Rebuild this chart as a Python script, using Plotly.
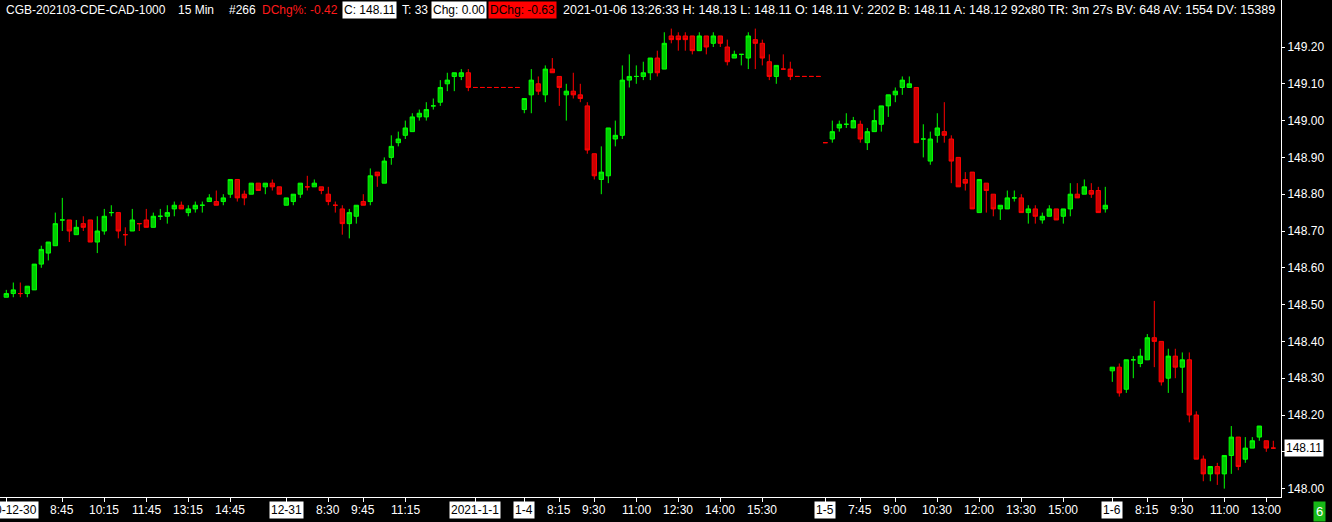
import plotly.graph_objects as go

# ---------------- data (15-min bars, left to right) ----------------
bar_index = list(range(182))

opens = [
    # 2020-12-30
    148.52, 148.53, 148.53, 148.53, 148.54, 148.61, 148.64, 148.66, 148.73, 148.73,
    148.69, 148.72, 148.73, 148.67, 148.70, 148.75, 148.75, 148.69, 148.70, 148.72,
    148.73, 148.71, 148.74, 148.74, 148.76, 148.77, 148.75, 148.76, 148.77, 148.78,
    148.78, 148.78, 148.80, 148.84, 148.80, 148.80, 148.83, 148.82, 148.83, 148.82,
    # 12-31
    148.77, 148.78, 148.80, 148.82, 148.82, 148.82, 148.80, 148.77, 148.76, 148.72,
    148.74, 148.78, 148.78, 148.86, 148.83, 148.90, 148.94, 148.96, 148.97, 149.01,
    149.01, 149.04, 149.05, 149.10, 149.12, 149.12, 149.13,
    # 2021-1-1 (no trades)
    149.09, 149.09, 149.09, 149.09, 149.09, 149.09, 149.09,
    # 1-4
    149.03, 149.07, 149.10, 149.07, 149.14, 149.12, 149.07, 149.08, 149.07, 149.04,
    148.91, 148.84, 148.85, 148.95, 148.96, 149.11, 149.12, 149.12, 149.13, 149.17,
    149.14, 149.23, 149.23, 149.23, 149.23, 149.19, 149.23, 149.21, 149.23, 149.20,
    149.17, 149.18, 149.17, 149.22, 149.21, 149.16, 149.12, 149.14, 149.14, 149.12,
    149.12, 149.12, 149.12,
    # 1-5
    148.94, 148.95, 148.98, 148.99, 148.98, 148.99, 148.94, 148.97, 148.99, 149.04,
    149.07, 149.09, 149.09, 149.09, 148.95, 148.89, 148.96, 148.97, 148.95, 148.90,
    148.84, 148.86, 148.75, 148.83, 148.80, 148.76, 148.76, 148.79, 148.79, 148.75,
    148.76, 148.73, 148.74, 148.76, 148.74, 148.76, 148.80, 148.80, 148.81, 148.81,
    148.76,
    # 1-6
    148.32, 148.33, 148.27, 148.35, 148.34, 148.35, 148.41, 148.40, 148.30, 148.36,
    148.33, 148.35, 148.20, 148.08, 148.04, 148.06, 148.04, 148.09, 148.14, 148.08,
    148.11, 148.14, 148.13, 148.11,
]

highs = [
    148.54, 148.56, 148.56, 148.55, 148.61, 148.66, 148.67, 148.75, 148.79, 148.73,
    148.73, 148.74, 148.73, 148.74, 148.76, 148.77, 148.75, 148.71, 148.76, 148.72,
    148.76, 148.75, 148.76, 148.77, 148.78, 148.78, 148.77, 148.78, 148.78, 148.80,
    148.81, 148.80, 148.84, 148.84, 148.81, 148.83, 148.83, 148.83, 148.84, 148.82,
    148.79, 148.80, 148.83, 148.85, 148.84, 148.82, 148.82, 148.78, 148.77, 148.76,
    148.77, 148.80, 148.87, 148.86, 148.90, 148.96, 148.97, 149.00, 149.02, 149.03,
    149.05, 149.06, 149.11, 149.13, 149.13, 149.14, 149.14,
    149.09, 149.09, 149.09, 149.09, 149.09, 149.09, 149.09,
    149.06, 149.14, 149.12, 149.15, 149.17, 149.12, 149.10, 149.13, 149.10, 149.05,
    148.91, 148.93, 148.98, 149.00, 149.15, 149.18, 149.15, 149.16, 149.17, 149.19,
    149.24, 149.25, 149.24, 149.24, 149.23, 149.24, 149.23, 149.24, 149.23, 149.22,
    149.19, 149.18, 149.24, 149.25, 149.22, 149.18, 149.15, 149.18, 149.16, 149.12,
    149.12, 149.12, 149.12,
    148.94, 149.00, 149.00, 149.02, 149.01, 149.00, 148.98, 149.03, 149.04, 149.07,
    149.09, 149.12, 149.12, 149.09, 148.99, 148.97, 149.02, 149.05, 148.96, 148.90,
    148.86, 148.86, 148.84, 148.83, 148.80, 148.77, 148.81, 148.81, 148.80, 148.77,
    148.77, 148.75, 148.77, 148.76, 148.76, 148.83, 148.83, 148.84, 148.83, 148.82,
    148.82,
    148.33, 148.34, 148.35, 148.36, 148.38, 148.42, 148.51, 148.40, 148.38, 148.38,
    148.37, 148.37, 148.21, 148.09, 148.06, 148.07, 148.09, 148.17, 148.14, 148.14,
    148.14, 148.17, 148.13, 148.13,
]

lows = [
    148.52, 148.52, 148.52, 148.52, 148.54, 148.60, 148.62, 148.66, 148.70, 148.67,
    148.69, 148.70, 148.67, 148.64, 148.69, 148.74, 148.68, 148.66, 148.70, 148.70,
    148.71, 148.71, 148.73, 148.72, 148.74, 148.76, 148.74, 148.75, 148.75, 148.78,
    148.77, 148.77, 148.79, 148.78, 148.77, 148.80, 148.81, 148.80, 148.81, 148.80,
    148.77, 148.77, 148.79, 148.81, 148.82, 148.80, 148.77, 148.75, 148.69, 148.68,
    148.72, 148.77, 148.77, 148.82, 148.83, 148.88, 148.93, 148.95, 148.97, 149.00,
    149.00, 149.03, 149.04, 149.08, 149.08, 149.11, 149.08,
    149.09, 149.09, 149.09, 149.09, 149.09, 149.09, 149.09,
    149.02, 149.02, 149.07, 149.05, 149.13, 149.04, 149.00, 149.06, 149.05, 148.91,
    148.84, 148.80, 148.83, 148.93, 148.95, 149.09, 149.10, 149.11, 149.11, 149.12,
    149.14, 149.21, 149.19, 149.19, 149.18, 149.19, 149.18, 149.20, 149.20, 149.15,
    149.17, 149.15, 149.14, 149.14, 149.15, 149.11, 149.10, 149.14, 149.11, 149.12,
    149.12, 149.12, 149.12,
    148.94, 148.94, 148.97, 148.98, 148.98, 148.94, 148.92, 148.97, 148.97, 149.01,
    149.05, 149.07, 149.09, 148.94, 148.90, 148.88, 148.94, 148.94, 148.83, 148.82,
    148.81, 148.76, 148.75, 148.75, 148.74, 148.73, 148.76, 148.78, 148.75, 148.72,
    148.72, 148.72, 148.74, 148.73, 148.72, 148.74, 148.79, 148.80, 148.79, 148.75,
    148.75,
    148.29, 148.25, 148.26, 148.30, 148.33, 148.35, 148.33, 148.28, 148.26, 148.30,
    148.26, 148.18, 148.08, 148.02, 148.02, 148.01, 148.00, 148.04, 148.05, 148.07,
    148.11, 148.13, 148.10, 148.11,
]

closes = [
    148.53, 148.54, 148.53, 148.55, 148.61, 148.65, 148.67, 148.72, 148.73, 148.70,
    148.71, 148.71, 148.67, 148.70, 148.74, 148.75, 148.70, 148.69, 148.73, 148.72,
    148.71, 148.74, 148.74, 148.75, 148.77, 148.76, 148.76, 148.77, 148.77, 148.79,
    148.77, 148.79, 148.84, 148.79, 148.79, 148.83, 148.81, 148.83, 148.82, 148.80,
    148.79, 148.80, 148.83, 148.82, 148.83, 148.81, 148.78, 148.77, 148.72, 148.75,
    148.77, 148.77, 148.85, 148.85, 148.89, 148.93, 148.95, 148.98, 149.01, 149.02,
    149.03, 149.04, 149.09, 149.11, 149.13, 149.13, 149.09,
    149.09, 149.09, 149.09, 149.09, 149.09, 149.09, 149.09,
    149.06, 149.11, 149.08, 149.14, 149.13, 149.09, 149.08, 149.07, 149.06, 148.92,
    148.85, 148.86, 148.98, 148.96, 149.11, 149.12, 149.12, 149.13, 149.17, 149.13,
    149.21, 149.22, 149.22, 149.22, 149.19, 149.23, 149.20, 149.23, 149.21, 149.16,
    149.18, 149.18, 149.23, 149.21, 149.17, 149.12, 149.15, 149.14, 149.12, 149.12,
    149.12, 149.12, 149.12,
    148.94, 148.97, 148.99, 148.99, 149.00, 148.95, 148.97, 149.00, 149.04, 149.07,
    149.08, 149.11, 149.10, 148.94, 148.95, 148.95, 148.98, 148.96, 148.89, 148.82,
    148.83, 148.76, 148.84, 148.81, 148.76, 148.77, 148.79, 148.79, 148.75, 148.76,
    148.74, 148.74, 148.76, 148.73, 148.76, 148.80, 148.79, 148.82, 148.80, 148.75,
    148.77,
    148.33, 148.26, 148.35, 148.35, 148.36, 148.41, 148.40, 148.29, 148.36, 148.33,
    148.35, 148.20, 148.08, 148.04, 148.06, 148.04, 148.09, 148.14, 148.06, 148.11,
    148.13, 148.17, 148.11, 148.11,
]

# G = green (up) candle, R = red (down) candle, as coloured in the chart
direction = (
    "GGRGGGGGGR" "GRRGGGRRGR" "RGGGGRGGGG" "RGGRRGRGRR"      # 12-30
    "GGGRGRRRRG" "GRGRGGGGGG" "GGGGGGR"                     # 12-31
    "RRRRRRR"                                               # 1-1
    "GGRGRRGRRR" "RGGGGGGGGR" "GRRRRGRGRR" "GGGRRRGRRR" "RRR"  # 1-4
    "RGGGGRGGGG" "GGGRGGGRRR" "RRGRRGGGRG" "RGGRGGRGRR" "G"    # 1-5
    "GRGGGGRRGR" "GRRRGRGGRG" "GGRR"                        # 1-6
)

time_tick_pos = [8, 14, 20, 26, 32, 46, 51, 57, 79, 84, 90, 96, 102, 108,
                 122, 127, 133, 139, 145, 151, 163, 168, 174, 180]
time_tick_text = ["8:45", "10:15", "11:45", "13:15", "14:45", "8:30", "9:45", "11:15",
                  "8:15", "9:30", "11:00", "12:30", "14:00", "15:30",
                  "7:45", "9:00", "10:30", "12:00", "13:30", "15:00",
                  "8:15", "9:30", "11:00", "13:00"]
date_tick_pos = [0, 40, 67, 74, 117, 158]
date_tick_text = ["2020-12-30", "12-31", "2021-1-1", "1-4", "1-5", "1-6"]

price_tick_vals = [148.00, 148.10, 148.20, 148.30, 148.40, 148.50, 148.60,
                   148.70, 148.80, 148.90, 149.00, 149.10, 149.20]
last_price = 148.11

header_items = [
    ("CGB-202103-CDE-CAD-1000", 4, "white", None),
    ("15 Min", 176, "white", None),
    ("#266", 227, "white", None),
    ("DChg%: -0.42", 260, "#ff1a1a", None),
    ("C: 148.11", 341.5, "black", "white"),
    ("T: 33", 399.5, "white", None),
    ("Chg: 0.00", 431, "black", "white"),
    ("DChg: -0.63", 488, "black", "#ff0000"),
    ("2021-01-06 13:26:33 H: 148.13 L: 148.11 O: 148.11 V: 2202 B: 148.11 "
     "A: 148.12 92x80 TR: 3m 27s BV: 648 AV: 1554 DV: 15389", 561, "white", None),
]

# ---------------- styling ----------------
FONT = "Liberation Sans, Arial, sans-serif"
UP_LINE, UP_FILL = "#00ff00", "#00cc00"
DN_LINE, DN_FILL = "#ff0000", "#cc0000"
W, H = 1332, 522
ML, MR, MT, MB = 0, 51, 0, 25
PLOT_W = W - ML - MR

fig = go.Figure()


def add_group(flag, line_c, fill_c):
    idx = [k for k, d in enumerate(direction) if d == flag]
    style = dict(line=dict(color=line_c, width=1), fillcolor=fill_c)
    fig.add_trace(go.Candlestick(
        x=[bar_index[k] for k in idx],
        open=[opens[k] for k in idx],
        high=[highs[k] for k in idx],
        low=[lows[k] for k in idx],
        close=[closes[k] for k in idx],
        increasing=style, decreasing=style,
        whiskerwidth=0, hoverinfo="skip", showlegend=False,
    ))


add_group("G", UP_LINE, UP_FILL)
add_group("R", DN_LINE, DN_FILL)

annotations = []
for n, (txt, px, col, bg) in enumerate(header_items):
    size = 12.5 if n == len(header_items) - 1 else 12
    a = dict(text=txt, xref="paper", x=px / PLOT_W, xanchor="left",
             yref="paper", y=1, yanchor="top", yshift=-1, showarrow=False,
             font=dict(family=FONT, size=size, color=col), borderpad=1)
    if bg:
        a["bgcolor"] = bg
    annotations.append(a)

for pos, txt in zip(time_tick_pos, time_tick_text):
    annotations.append(dict(text=txt, xref="x", x=pos, xanchor="center",
                            yref="paper", y=0, yanchor="top", yshift=-4,
                            showarrow=False, borderpad=1,
                            font=dict(family=FONT, size=12, color="white")))
for pos, txt in zip(date_tick_pos, date_tick_text):
    annotations.append(dict(text=txt, xref="x", x=pos, xanchor="center",
                            yref="paper", y=0, yanchor="top", yshift=-4,
                            showarrow=False, borderpad=1, bgcolor="white",
                            font=dict(family=FONT, size=12, color="black")))

annotations.append(dict(text=f"{last_price:.2f}", xref="paper", x=1, xanchor="left",
                        xshift=3, yref="y", y=last_price, yanchor="middle",
                        showarrow=False, bgcolor="white", borderpad=1,
                        font=dict(family=FONT, size=12, color="black")))
annotations.append(dict(text="6", xref="paper", x=1, xanchor="left", xshift=32,
                        yref="paper", y=0, yanchor="top", yshift=-4,
                        showarrow=False, bgcolor="#17b817", borderpad=2,
                        font=dict(family=FONT, size=13, color="white")))

px_per_unit = 368.0
y_top = 149.20 + 47 / px_per_unit
y_bot = y_top - (H - MT - MB) / px_per_unit
x_left = -6.3 / 7.0
x_right = x_left + PLOT_W / 7.0

# the 148.10 label sits under the last-price box in the original
tick_labels = ["" if abs(v - 148.10) < 1e-9 else f"{v:.2f}" for v in price_tick_vals]

fig.update_layout(
    width=W, height=H,
    margin=dict(l=ML, r=MR, t=MT, b=MB, pad=0),
    paper_bgcolor="black", plot_bgcolor="black",
    boxgap=0.38, boxgroupgap=0,
    annotations=annotations,
    showlegend=False,
    xaxis=dict(range=[x_left, x_right], rangeslider=dict(visible=False),
               showgrid=False, zeroline=False, showline=True, linecolor="white",
               linewidth=1, ticks="outside", ticklen=4, tickcolor="white",
               tickvals=time_tick_pos + date_tick_pos, showticklabels=False),
    yaxis=dict(range=[y_bot, y_top], side="right", showgrid=False, zeroline=False,
               showline=True, linecolor="white", linewidth=1, ticks="outside",
               ticklen=3, tickcolor="white", tickvals=price_tick_vals,
               ticktext=tick_labels,
               tickfont=dict(family=FONT, size=12, color="white")),
)

fig.write_html("out.html", config={"displayModeBar": False},
               post_script="document.body.style.margin='0';document.body.style.overflow='hidden';")
